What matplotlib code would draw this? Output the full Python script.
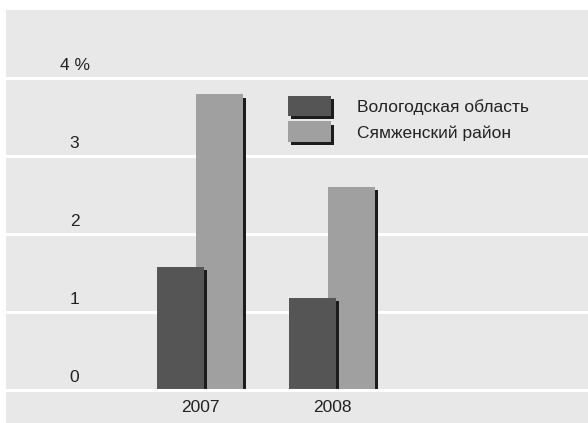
import matplotlib
matplotlib.use("Agg")
import matplotlib.pyplot as plt
import matplotlib.patheffects as pe
from matplotlib.patches import Patch
import numpy as np

years = ["2007", "2008"]
oblast = [1.58, 1.18]
rayon = [3.79, 2.60]
series_names = ["Вологодская область", "Сямженский район"]
y_ticks = [0, 1, 2, 3, 4]
y_tick_labels = ["0", "1", "2", "3", "4 %"]

plt.rcParams['font.family'] = ['Liberation Sans', 'DejaVu Sans']

dark = "#555555"
light = "#a0a0a0"
shade = "#1c1c1c"
bg = "#e8e8e8"
txt = "#222222"
shadow = [pe.withSimplePatchShadow(offset=(2.2, -2.2), shadow_rgbFace=shade, alpha=1.0)]

fig = plt.figure(figsize=(5.88, 4.23), dpi=100)
ax = fig.add_axes([6 / 588, 0, 582 / 588, 413 / 423])
ax.set_facecolor(bg)
for s in ax.spines.values():
    s.set_visible(False)

x = np.arange(len(years))
w = 0.356
off = 0.148
dx = 0.024  # shadow shift to the right
dy = 0.04   # shadow starts a little below the top
ax.bar(x + off + dx, np.array(rayon) - dy, w, color=shade, zorder=2)
ax.bar(x + off, rayon, w, color=light, zorder=2)
ax.bar(x - off + dx, np.array(oblast) - dy, w, color=shade, zorder=3)
ax.bar(x - off, oblast, w, color=dark, zorder=3)

for t, lab in zip(y_ticks, y_tick_labels):
    ax.axhline(t, color="white", lw=2.2, zorder=1 if t else 4)
    ax.text(-0.95, t + 0.16, lab, ha="center", va="center", fontsize=12.5, color=txt)

for xi, lab in zip(x, years):
    ax.text(xi, -0.22, lab, ha="center", va="center", fontsize=12.5, color=txt)

ax.set_xlim(-1.470, 2.939)
ax.set_ylim(-0.423, 4.872)
ax.set_xticks([])
ax.set_yticks([])

handles = [Patch(facecolor=dark, path_effects=shadow), Patch(facecolor=light, path_effects=shadow)]
ax.legend(handles, series_names, loc="upper left", bbox_to_anchor=(272 / 588, 1 - 80 / 423),
          bbox_transform=fig.transFigure, frameon=False, fontsize=12.5,
          handlelength=2.5, handleheight=1.45, handletextpad=1.5, labelspacing=0.3,
          labelcolor=txt)

fig.savefig("out.png", dpi=100, facecolor="white")
